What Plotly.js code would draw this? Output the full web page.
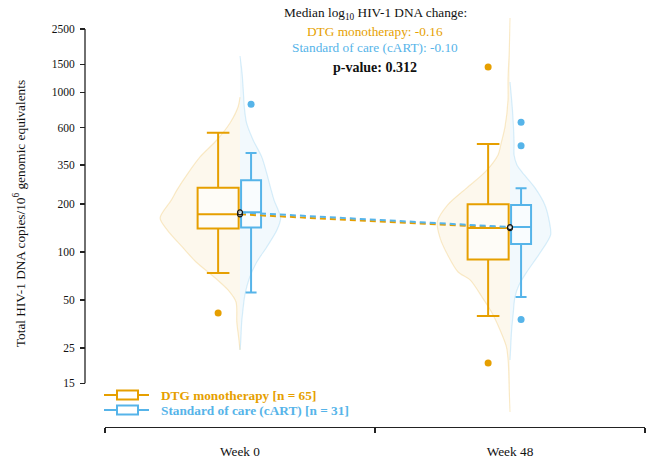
<!DOCTYPE html>
<html><head><meta charset="utf-8">
<script src="https://cdn.plot.ly/plotly-3.0.1.min.js"></script>
<style>html,body{margin:0;padding:0;background:#fff}</style>
</head><body><div id="chart" style="width:649px;height:460px"></div>
<script>
// ---------- data ----------
const timepoints = ['Week 0', 'Week 48'];
const groups = ['DTG monotherapy', 'Standard of care (cART)'];
const groupN = [65, 31];
const medianChange = [-0.16, -0.10];
const pValue = 0.312;
const yTickVals = [15, 25, 50, 100, 200, 350, 600, 1000, 1500, 2500];
const yTickText = ['15', '25', '50', '100', '200', '350', '600', '1000', '1500', '2500'];

// box statistics, [Week 0, Week 48]
const dtgLowerFence = [73.6, 39.7];
const dtgQ1 = [140, 89.7];
const dtgMedian = [172, 141];
const dtgQ3 = [252, 199];
const dtgUpperFence = [559, 475];
const socLowerFence = [55.7, 52.2];
const socQ1 = [142, 112];
const socMedian = [177, 143];
const socQ3 = [281, 197];
const socUpperFence = [417, 251];

// outliers (time index, value)
const dtgOutlierTime = [0, 1, 1];
const dtgOutlierVal = [41.4, 1445, 20.1];
const socOutlierTime = [0, 1, 1, 1];
const socOutlierVal = [843, 650, 463, 37.7];

// half-violin profiles: value levels and relative density
const dtgW0Y = [935, 810, 643, 503, 394, 312, 244, 211, 163, 137, 107, 86.4, 68.6, 57.7, 48.5, 36.3, 28.8, 24.3];
const dtgW0D = [0, .025, .125, .29, .5, .65, .79, .86, 1, .91, .72, .55, .31, .15, .05, .04, .016, 0];
const dtgW48Y = [2925, 1845, 1197, 896, 607, 482, 405, 317, 252, 197, 154, 122, 95.6, 74.8, 66.7, 52.1, 41.4, 32.4, 25.3, 20.1, 13.6, 9.9];
const dtgW48D = [0, .009, .025, .025, .063, .11, .15, .31, .54, .78, .91, .875, .78, .65, .5, .35, .225, .125, .044, .021, .01, 0];
const socW0Y = [1690, 1323, 1035, 810, 643, 503, 394, 312, 244, 211, 163, 137, 107, 86.4, 68.6, 53.7, 42.0, 35.8, 27.2, 24.3];
const socW0D = [.0, .05, .08, .105, .16, .32, .53, .65, .76, .83, .99, .9, .65, .41, .23, .12, .066, .04, .017, 0];
const socW48Y = [1162, 776, 482, 405, 351, 317, 252, 197, 154, 128, 98.4, 74.8, 62.0, 52.1, 41.4, 32.4, 25.3, 21.0];
const socW48D = [0, .06, .1, .1, .17, .29, .61, .85, .96, .99, .73, .41, .22, .12, .08, .04, .017, 0];

// ---------- style ----------
const ORANGE = '#E69F00', BLUE = '#56B4E9';
const FONT = 'Liberation Serif, Times New Roman, serif';
const W = 649, H = 460, ML = 85, MR = 4, MT = 0, MB = 33;
const PW = W - ML - MR, PH = H - MT - MB;
const px = x => (x - ML) / PW;
const py = y => (H - MB - y) / PH;
const dtgOffset = -0.081, socOffset = 0.041;
const dtgBoxW = 0.152, socBoxW = 0.074;
const dtgViolinScale = 0.296, socViolinScale = 0.152;

function halfViolin(center, ys, ds, scale, dir, edge, fill) {
  return {
    type: 'scatter', mode: 'lines', xaxis: 'x', yaxis: 'y',
    x: ds.map(d => center + dir * d * scale), y: ys,
    fill: 'toself', fillcolor: fill,
    line: {color: edge, width: 1.2, shape: 'spline', smoothing: 0.8},
    hoverinfo: 'skip', showlegend: false
  };
}

const traces = [
  halfViolin(0, dtgW0Y, dtgW0D, dtgViolinScale, -1, 'rgba(230,159,0,0.2)', 'rgba(230,159,0,0.07)'),
  halfViolin(1, dtgW48Y, dtgW48D, dtgViolinScale, -1, 'rgba(230,159,0,0.2)', 'rgba(230,159,0,0.07)'),
  halfViolin(0, socW0Y, socW0D, socViolinScale, 1, 'rgba(86,180,233,0.22)', 'rgba(86,180,233,0.08)'),
  halfViolin(1, socW48Y, socW48D, socViolinScale, 1, 'rgba(86,180,233,0.22)', 'rgba(86,180,233,0.08)'),
  {
    type: 'box', xaxis: 'x2', yaxis: 'y2', name: groups[0],
    x: timepoints.map((t, i) => i + dtgOffset),
    q1: dtgQ1, median: dtgMedian, q3: dtgQ3, lowerfence: dtgLowerFence, upperfence: dtgUpperFence,
    width: dtgBoxW, whiskerwidth: 0.55, boxpoints: false,
    line: {color: ORANGE, width: 2}, fillcolor: 'rgba(255,255,255,0.55)',
    hoverinfo: 'skip', showlegend: false
  },
  {
    type: 'box', xaxis: 'x2', yaxis: 'y2', name: groups[1],
    x: timepoints.map((t, i) => i + socOffset),
    q1: socQ1, median: socMedian, q3: socQ3, lowerfence: socLowerFence, upperfence: socUpperFence,
    width: socBoxW, whiskerwidth: 0.55, boxpoints: false,
    line: {color: BLUE, width: 2}, fillcolor: 'rgba(255,255,255,0.55)',
    hoverinfo: 'skip', showlegend: false
  },
  {
    type: 'scatter', mode: 'markers', xaxis: 'x2', yaxis: 'y2',
    x: dtgOutlierTime.map(i => i + dtgOffset), y: dtgOutlierVal,
    marker: {color: ORANGE, size: 7}, hoverinfo: 'skip', showlegend: false
  },
  {
    type: 'scatter', mode: 'markers', xaxis: 'x2', yaxis: 'y2',
    x: socOutlierTime.map(i => i + socOffset), y: socOutlierVal,
    marker: {color: BLUE, size: 7}, hoverinfo: 'skip', showlegend: false
  },
  {
    type: 'scatter', mode: 'lines+markers', xaxis: 'x2', yaxis: 'y2',
    x: timepoints.map((t, i) => i), y: dtgMedian,
    line: {color: ORANGE, width: 2, dash: '6px,4px'},
    marker: {color: 'rgba(255,255,255,0.6)', size: 5, line: {color: '#111', width: 1.2}},
    hoverinfo: 'skip', showlegend: false
  },
  {
    type: 'scatter', mode: 'lines+markers', xaxis: 'x2', yaxis: 'y2',
    x: timepoints.map((t, i) => i), y: socMedian,
    line: {color: BLUE, width: 2, dash: '6px,4px'},
    marker: {color: 'rgba(255,255,255,0.6)', size: 5, line: {color: '#111', width: 1.2}},
    hoverinfo: 'skip', showlegend: false
  }
];

const yRange = [0.9021, 3.5792];
const xRange = [-0.5, 1.5];
const xDomain = [px(105), 1];

const shapes = [
  {type: 'line', xref: 'paper', yref: 'y', x0: 0, x1: 0,
   y0: yTickVals[0], y1: yTickVals[yTickVals.length - 1],
   line: {color: '#222', width: 1.3}}
];
const annotations = [
  {xref: 'x', yref: 'paper', x: 0.5, y: py(13), showarrow: false, yanchor: 'middle',
   text: 'Median log<sub>10</sub> HIV-1 DNA change:', font: {family: FONT, size: 13.3, color: '#111'}},
  {xref: 'x', yref: 'paper', x: 0.5, y: py(32), showarrow: false, yanchor: 'middle',
   text: groups[0] + ': ' + medianChange[0].toFixed(2), font: {family: FONT, size: 13.3, color: ORANGE}},
  {xref: 'x', yref: 'paper', x: 0.5, y: py(47), showarrow: false, yanchor: 'middle',
   text: groups[1] + ': ' + medianChange[1].toFixed(2), font: {family: FONT, size: 13.3, color: BLUE}},
  {xref: 'x', yref: 'paper', x: 0.5, y: py(68), showarrow: false, yanchor: 'middle',
   text: '<b>p-value: ' + pValue.toFixed(3) + '</b>', font: {family: FONT, size: 14, color: '#111'}}
];
// custom legend
[[ORANGE, 395], [BLUE, 410]].forEach(([c, yy], i) => {
  shapes.push({type: 'line', xref: 'paper', yref: 'paper', x0: px(104), x1: px(149), y0: py(yy), y1: py(yy),
    line: {color: c, width: 2}});
  shapes.push({type: 'rect', xref: 'paper', yref: 'paper', x0: px(117), x1: px(138), y0: py(yy - 4.5), y1: py(yy + 4.5),
    line: {color: c, width: 2}, fillcolor: '#fff'});
  annotations.push({xref: 'paper', yref: 'paper', x: px(159), y: py(yy), xanchor: 'left', yanchor: 'middle',
    showarrow: false, text: '<b>' + groups[i] + ' [n = ' + groupN[i] + ']</b>',
    font: {family: FONT, size: 13.3, color: c}});
});

const layout = {
  width: W, height: H,
  margin: {l: ML, r: MR, t: MT, b: MB},
  paper_bgcolor: '#fff', plot_bgcolor: 'rgba(0,0,0,0)',
  font: {family: FONT, size: 13, color: '#111'},
  showlegend: false, boxmode: 'overlay',
  xaxis: {
    domain: xDomain, range: xRange, anchor: 'y',
    tickmode: 'array', tickvals: [0, 1], ticktext: timepoints, ticks: '',
    tickfont: {family: FONT, size: 13.3, color: '#111'}, ticklabelstandoff: 12,
    minor: {tickmode: 'array', tickvals: [-0.5, 0.5, 1.5], ticks: 'outside', ticklen: 5, tickwidth: 1.3, tickcolor: '#222', showgrid: false},
    showline: true, linecolor: '#222', linewidth: 1.3,
    showgrid: false, zeroline: false, fixedrange: true
  },
  yaxis: {
    type: 'log', range: yRange, anchor: 'free', position: 0,
    tickmode: 'array', tickvals: yTickVals, ticktext: yTickText,
    ticks: 'outside', ticklen: 5, tickwidth: 1.3, tickcolor: '#222',
    tickfont: {family: FONT, size: 11.5, color: '#111'}, ticklabelstandoff: 3,
    showline: false, showgrid: false, zeroline: false, fixedrange: true,
    title: {text: 'Total HIV-1 DNA copies/10<sup>6</sup> genomic equivalents', font: {family: FONT, size: 13.3, color: '#111'}, standoff: 22}
  },
  xaxis2: {overlaying: 'x', domain: xDomain, range: xRange, anchor: 'y2', visible: false, fixedrange: true},
  yaxis2: {overlaying: 'y', type: 'log', range: yRange, anchor: 'x2', visible: false, fixedrange: true},
  shapes: shapes,
  annotations: annotations
};

Plotly.newPlot('chart', traces, layout, {displayModeBar: false, staticPlot: true});
</script>
</body></html>
